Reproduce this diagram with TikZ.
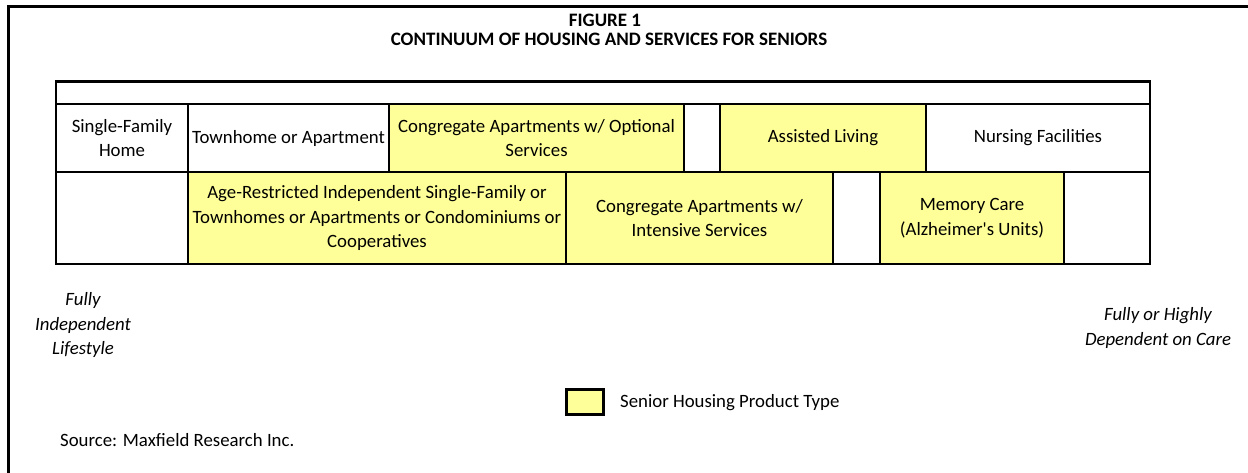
\documentclass[tikz,border=0pt]{standalone}
\usepackage{fontspec}
\setmainfont{Carlito}[Ligatures=TeXOff]
\begin{document}
\begin{tikzpicture}[x=1pt,y=-1pt,
  bodyfont/.style={font=\fontsize{18.8}{24.5}\selectfont},
  cell/.style={draw=black,line width=1.8pt,rectangle,inner sep=0pt,outer sep=0pt,
    align=center,bodyfont},
  senior/.style={cell,fill=seniorfill},
  plain/.style={cell,fill=white},
  sidelabel/.style={align=center,font=\fontsize{18.8}{24.5}\selectfont\itshape},
  titletext/.style={font=\fontsize{19}{22}\selectfont\bfseries},
  note/.style={anchor=west,inner sep=0pt,bodyfont}]
\definecolor{seniorfill}{RGB}{255,255,153}
\useasboundingbox (0,0) rectangle (1248,473);
\fill[white] (0,0) rectangle (1248,473);
% frame around the figure (open on the right and at the bottom)
\draw[line width=2.7pt] (8.7,473) |- (1248,6.3);

% titles
\node[titletext] (fig) at (605,20) {FIGURE 1};
\node[titletext] (ttl) at (609,39) {CONTINUUM OF HOUSING AND SERVICES FOR SENIORS};

% empty header row
\node[plain,minimum width=1094,minimum height=22.5] (hdr) at (603,92.5) {};

% first row
\node[plain,minimum width=132,minimum height=68] (sfh) at (122,138) {Single-Family\\Home};
\node[plain,minimum width=201,minimum height=68] (twn) at (288.5,138) {Townhome or Apartment};
\node[senior,minimum width=295,minimum height=68] (cao) at (536.5,138) {Congregate Apartments w/ Optional\\Services};
\node[plain,minimum width=36,minimum height=68] (gapa) at (702,138) {};
\node[senior,minimum width=206,minimum height=68] (asl) at (823,138) {Assisted Living};
\node[plain,minimum width=224,minimum height=68] (nrs) at (1038,138) {Nursing Facilities};

% second row
\node[plain,minimum width=132,minimum height=92] (emp) at (122,218) {};
\node[senior,minimum width=378,minimum height=92] (age) at (377,218)
  {Age-Restricted Independent Single-Family or\\Townhomes or Apartments or Condominiums or\\Cooperatives};
\node[senior,minimum width=267,minimum height=92] (cai) at (699.5,218) {Congregate Apartments w/\\Intensive Services};
\node[plain,minimum width=47,minimum height=92] (gapb) at (856.5,218) {};
\node[senior,minimum width=184,minimum height=92] (mem) at (972,218) {Memory Care\\(Alzheimer's Units)};
\node[plain,minimum width=86,minimum height=92] (gapc) at (1107,218) {};

% outer border of the table
\draw[line width=2.6pt] (hdr.north west) rectangle (gapc.south east);

% ends of the continuum
\node[sidelabel] (indep) at (83,325) {Fully\\Independent\\Lifestyle};
\node[sidelabel] (dep) at (1158,328) {Fully or Highly\\Dependent on Care};

% legend
\node[senior,line width=2.4pt,minimum width=37,minimum height=25] (key) at (585,402) {};
\node[note] (keytxt) at (620,403) {Senior Housing Product Type};

% source
\node[note] (src) at (60,440) {Source: Maxfield Research Inc.};
\end{tikzpicture}
\end{document}
